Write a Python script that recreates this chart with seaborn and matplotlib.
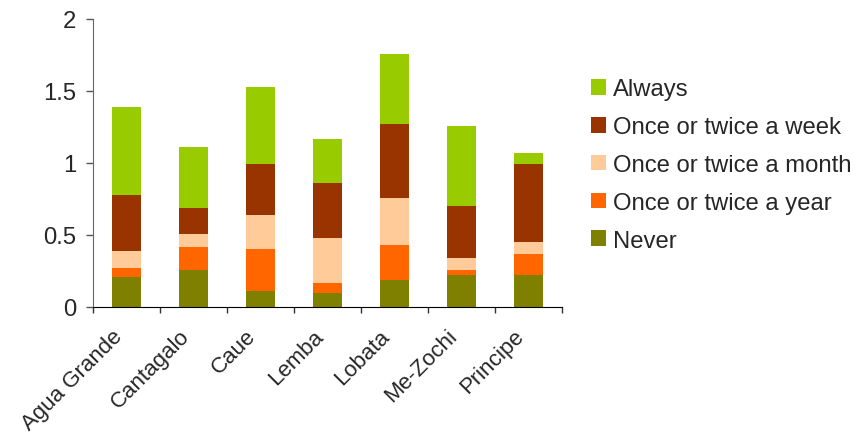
import matplotlib
matplotlib.use('Agg')
import matplotlib.pyplot as plt
import matplotlib.transforms as mtransforms
import numpy as np
import pandas as pd
import seaborn as sns

# Data
districts = ['Agua Grande', 'Cantagalo', 'Caue', 'Lemba', 'Lobata', 'Me-Zochi', 'Principe']
never = [0.21, 0.26, 0.11, 0.10, 0.19, 0.22, 0.22]
year = [0.06, 0.16, 0.29, 0.07, 0.24, 0.04, 0.15]
month = [0.12, 0.09, 0.24, 0.31, 0.33, 0.08, 0.08]
week = [0.39, 0.18, 0.35, 0.38, 0.51, 0.36, 0.54]
always = [0.61, 0.42, 0.54, 0.31, 0.49, 0.56, 0.08]

series = ['Never', 'Once or twice a year', 'Once or twice a month', 'Once or twice a week', 'Always']
colors = {'Never': '#808000', 'Once or twice a year': '#FF6600',
          'Once or twice a month': '#FFCC99', 'Once or twice a week': '#993300',
          'Always': '#99CC00'}

df = pd.DataFrame({'district': districts, 'Never': never, 'Once or twice a year': year,
                   'Once or twice a month': month, 'Once or twice a week': week,
                   'Always': always})
cum = df[series].cumsum(axis=1)
cum['district'] = df['district']

sns.set_style('white')
plt.rcParams['font.family'] = ['Liberation Sans', 'DejaVu Sans']
plt.rcParams['font.size'] = 17.2

fig = plt.figure(figsize=(8.55, 4.39), dpi=100)
ax = fig.add_axes([93 / 855, 1 - 308 / 439, (562 - 93) / 855, (308 - 20) / 439])

# draw tallest cumulative layer first so the lower ones sit on top of it
for name in reversed(series):
    sns.barplot(data=cum, x='district', y=name, color=colors[name], width=0.42,
                saturation=1, ax=ax, label=name, linewidth=0)

ax.set_ylim(0, 2)
ax.set_xlim(-0.5, len(districts) - 0.5)
ax.set_yticks([0, 0.5, 1, 1.5, 2])
ax.set_yticklabels(['0', '0.5', '1', '1.5', '2'])
ax.set_xlabel('')
ax.set_ylabel('')

ax.set_xticks(np.arange(len(districts)))
ax.set_xticklabels(districts, rotation=45, ha='right', rotation_mode='anchor', fontsize=16)
ax.set_xticks(np.arange(len(districts) + 1) - 0.5, minor=True)
ax.tick_params(axis='x', which='major', length=0, pad=13)
ax.tick_params(axis='x', which='minor', length=4.5, width=1, color='#333333', direction='out', bottom=True)
ax.tick_params(axis='y', length=5, width=1, color='#555555', direction='out', left=True, pad=7)

# nudge rotated category labels left, like the original
offset = mtransforms.ScaledTranslation(-15 / 100, 0, fig.dpi_scale_trans)
for lbl in ax.get_xticklabels():
    lbl.set_transform(lbl.get_transform() + offset)

sns.despine(ax=ax)
ax.spines['left'].set_color('#666666')
ax.spines['bottom'].set_color('black')

handles, labels = ax.get_legend_handles_labels()
leg = fig.legend(handles, labels, loc='center left', bbox_to_anchor=(591 / 855, 1 - 166 / 439),
                 bbox_transform=fig.transFigure, frameon=False, borderpad=0, borderaxespad=0,
                 handlelength=0.62, handleheight=0.62, handletextpad=0.3,
                 labelspacing=0.66, fontsize=17.2)
if ax.get_legend() is not None:
    ax.get_legend().remove()

fig.savefig('out.png', dpi=100)
